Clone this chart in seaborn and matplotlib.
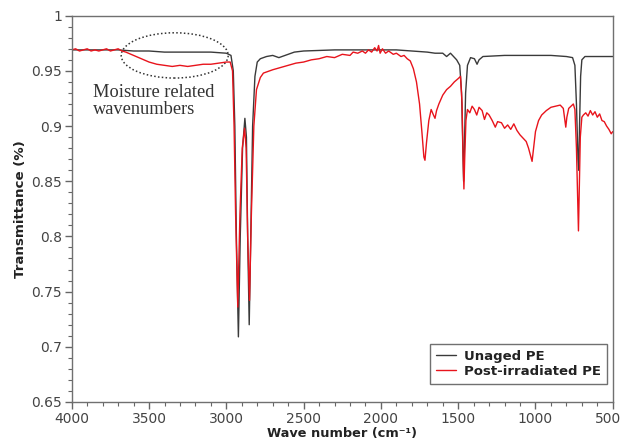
import numpy as np
import pandas as pd
import seaborn as sns
import matplotlib
matplotlib.use("Agg")
import matplotlib.pyplot as plt
import matplotlib.transforms as mtransforms
from matplotlib.patches import Ellipse
from matplotlib.ticker import MultipleLocator

# ---- data ----
unaged_wn = [4000, 3900, 3800, 3700, 3600, 3500, 3400, 3300, 3200, 3100, 3000, 2970,
             2955, 2945, 2935, 2922, 2910, 2895, 2880, 2870, 2862, 2852, 2842, 2830,
             2815, 2800, 2780, 2740, 2700, 2660, 2620, 2560, 2500, 2300, 2100, 1900,
             1800, 1700, 1650, 1600, 1575, 1550, 1510, 1490, 1478, 1470, 1465, 1460,
             1452, 1440, 1420, 1395, 1378, 1365, 1340, 1200, 1000, 900, 800, 760,
             745, 735, 725, 720, 715, 708, 700, 680, 600, 500]
unaged_t = [0.969, 0.969, 0.969, 0.969, 0.968, 0.968, 0.967, 0.967, 0.967, 0.967, 0.966, 0.964,
            0.950, 0.900, 0.800, 0.709, 0.800, 0.880, 0.907, 0.890, 0.800, 0.720, 0.800, 0.900,
            0.945, 0.958, 0.961, 0.963, 0.964, 0.962, 0.964, 0.967, 0.968, 0.969, 0.969, 0.969,
            0.968, 0.967, 0.966, 0.966, 0.963, 0.966, 0.960, 0.955, 0.930, 0.880, 0.850, 0.880,
            0.930, 0.955, 0.962, 0.961, 0.956, 0.960, 0.963, 0.964, 0.964, 0.964, 0.963, 0.962,
            0.955, 0.920, 0.870, 0.860, 0.900, 0.945, 0.960, 0.963, 0.963, 0.963]

irr_wn = [4000, 3975, 3950, 3925, 3900, 3875, 3850, 3825, 3800, 3775, 3750, 3725, 3700,
          3675, 3650, 3600, 3550, 3500, 3450, 3400, 3350, 3300, 3250, 3200, 3150, 3100,
          3050, 3000, 2975, 2960, 2950, 2940, 2926, 2912, 2897, 2882, 2872, 2862, 2850,
          2838, 2822, 2805, 2780, 2760, 2720, 2700, 2650, 2600, 2550, 2500, 2450, 2400,
          2350, 2300, 2250, 2200, 2180, 2150, 2120, 2100, 2080, 2060, 2040, 2025, 2015,
          2005, 1990, 1970, 1950, 1920, 1900, 1870, 1850, 1830, 1810, 1790, 1770, 1750,
          1735, 1722, 1715, 1705, 1690, 1675, 1660, 1650, 1640, 1625, 1600, 1575, 1550,
          1525, 1500, 1485, 1475, 1468, 1463, 1458, 1450, 1440, 1425, 1410, 1395, 1380,
          1365, 1345, 1330, 1315, 1300, 1280, 1260, 1245, 1220, 1200, 1180, 1160, 1140,
          1120, 1100, 1080, 1060, 1045, 1030, 1022, 1012, 1000, 980, 960, 930, 900, 870,
          840, 820, 810, 804, 797, 785, 770, 755, 745, 735, 728, 722, 717, 710, 700, 690,
          675, 660, 645, 630, 615, 600, 585, 570, 555, 540, 525, 510, 500]
irr_t = [0.969, 0.970, 0.968, 0.969, 0.970, 0.968, 0.969, 0.968, 0.969, 0.970, 0.968, 0.969, 0.970,
         0.968, 0.967, 0.964, 0.961, 0.958, 0.956, 0.955, 0.954, 0.955, 0.954, 0.955, 0.956, 0.956,
         0.957, 0.958, 0.958, 0.950, 0.900, 0.820, 0.736, 0.820, 0.880, 0.898, 0.880, 0.800, 0.742,
         0.820, 0.900, 0.933, 0.944, 0.948, 0.950, 0.951, 0.953, 0.955, 0.957, 0.958, 0.960, 0.961,
         0.963, 0.962, 0.965, 0.964, 0.967, 0.966, 0.968, 0.966, 0.969, 0.967, 0.971, 0.968, 0.973,
         0.966, 0.970, 0.966, 0.968, 0.965, 0.966, 0.963, 0.964, 0.961, 0.959, 0.952, 0.940, 0.920,
         0.895, 0.872, 0.869, 0.885, 0.905, 0.915, 0.910, 0.907, 0.914, 0.920, 0.928, 0.933, 0.936,
         0.940, 0.943, 0.945, 0.920, 0.870, 0.843, 0.870, 0.905, 0.915, 0.912, 0.918, 0.915, 0.910,
         0.917, 0.914, 0.906, 0.912, 0.910, 0.905, 0.899, 0.904, 0.903, 0.898, 0.901, 0.897, 0.902,
         0.896, 0.892, 0.889, 0.886, 0.880, 0.872, 0.868, 0.880, 0.895, 0.905, 0.910, 0.914, 0.917, 0.918,
         0.919, 0.916, 0.905, 0.899, 0.908, 0.916, 0.918, 0.920, 0.915, 0.880, 0.840, 0.805, 0.840, 0.890,
         0.908, 0.910, 0.912, 0.909, 0.914, 0.910, 0.913, 0.908, 0.911, 0.905, 0.904, 0.900, 0.897, 0.893, 0.895]

series_names = ["Unaged PE", "Post-irradiated PE"]
x_ticks = [4000, 3500, 3000, 2500, 2000, 1500, 1000, 500]
y_ticks = [0.65, 0.7, 0.75, 0.8, 0.85, 0.9, 0.95, 1]
y_tick_labels = ["0.65", "0.7", "0.75", "0.8", "0.85", "0.9", "0.95", "1"]

df = pd.concat([
    pd.DataFrame({"wn": unaged_wn, "t": unaged_t, "series": series_names[0]}),
    pd.DataFrame({"wn": irr_wn, "t": irr_t, "series": series_names[1]}),
])

sns.set_style("ticks")
plt.rcParams["font.family"] = ["DejaVu Sans"]

fig = plt.figure(figsize=(6.24, 4.43), dpi=100)
ax = fig.add_axes([0.115, 0.0926, 0.867, 0.872])

palette = {series_names[0]: "#3a3a3a", series_names[1]: "#e8141c"}
sns.lineplot(data=df, x="wn", y="t", hue="series", palette=palette,
             estimator=None, sort=False, linewidth=1.0, ax=ax)

ax.set_xlim(4000, 500)
ax.set_ylim(0.65, 1.0)
ax.set_xticks(x_ticks)
ax.set_xticklabels([str(v) for v in x_ticks])
ax.set_yticks(y_ticks)
ax.set_yticklabels(y_tick_labels)
ax.xaxis.set_minor_locator(MultipleLocator(100))
ax.yaxis.set_minor_locator(MultipleLocator(0.01))

tick_col = "#444444"
ax.tick_params(axis="both", which="major", direction="out", length=5, width=1,
               colors="#666666", labelcolor=tick_col, labelsize=10, pad=2)
ax.tick_params(axis="both", which="minor", direction="out", length=3, width=0.8,
               colors="#666666")
for s in ax.spines.values():
    s.set_visible(True)
    s.set_color("#707070")
    s.set_linewidth(1.0)

# keep the last x tick label inside the figure
last_lbl = ax.get_xticklabels()[-1]
last_lbl.set_transform(last_lbl.get_transform() +
                       mtransforms.ScaledTranslation(-5 / 100, 0, fig.dpi_scale_trans))

ax.set_xlabel("Wave number (cm\u207b\u00b9)", fontsize=9.3, fontweight="bold",
              color="#222222", labelpad=1)
ax.set_ylabel("Transmittance (%)", fontsize=9.6, fontweight="bold",
              color="#222222", labelpad=3)

# dotted ellipse marking the moisture region
ell = Ellipse((3334, 0.964), width=692, height=0.041, fill=False,
              linestyle=(0, (1, 1.5)), edgecolor="#333333", linewidth=1.1)
ax.add_patch(ell)
ax.text(3862, 0.9385, "Moisture related\nwavenumbers", family="Liberation Serif",
        fontsize=13.2, color="#333333", ha="left", va="top", linespacing=1.0)

leg = ax.legend(loc="lower right", bbox_to_anchor=(0.989, 0.047), borderaxespad=0,
                frameon=True, fancybox=False, framealpha=1, edgecolor="#707070",
                handlelength=1.5, handletextpad=0.6, borderpad=0.45,
                labelspacing=0.15, prop={"weight": "bold", "size": 9.5})
leg.get_frame().set_linewidth(1.0)
for t in leg.get_texts():
    t.set_color("#222222")

fig.savefig("out.png", dpi=100)
